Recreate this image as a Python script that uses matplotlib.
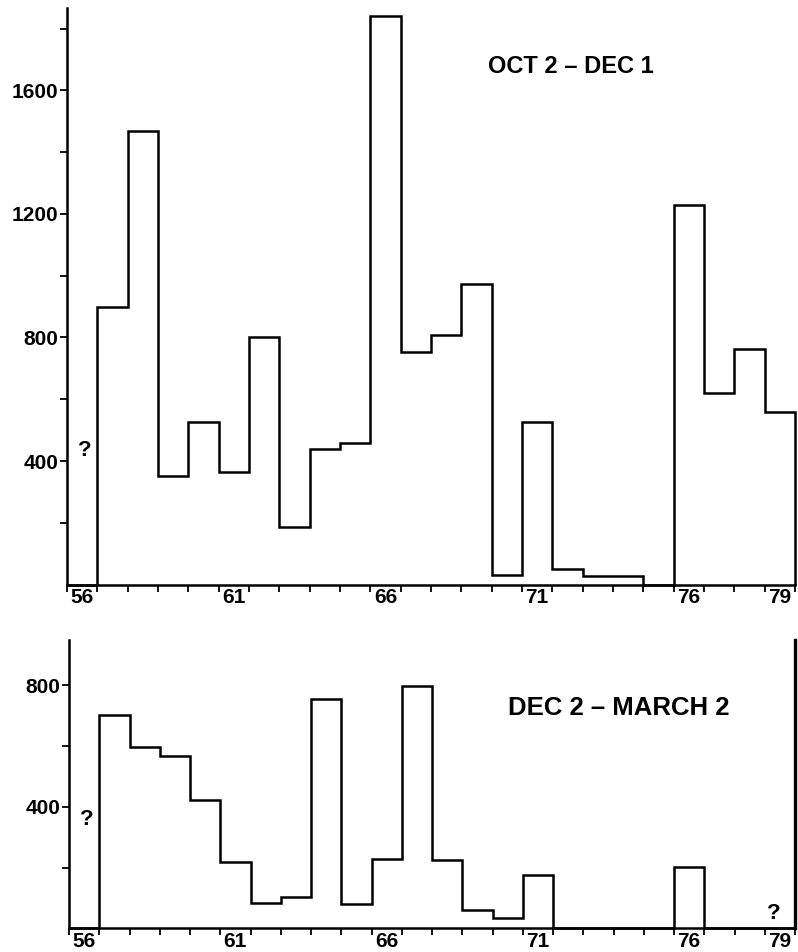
import matplotlib
matplotlib.use("Agg")
import matplotlib.pyplot as plt

plt.rcParams['font.family'] = ['Liberation Sans', 'DejaVu Sans']
plt.rcParams['font.weight'] = 'bold'

# bins are one year wide, left edge = year
years = list(range(1956, 1980))
edges = list(range(1956, 1981))

# Oct 2 - Dec 1 (1956 unknown)
autumn = [0, 900, 1470, 350, 525, 365, 800, 185, 440, 458,
          1840, 752, 808, 972, 30, 525, 51, 27, 27, 0,
          1230, 620, 762, 560]

# Dec 2 - March 2 (1956 and 1979 unknown)
winter = [0, 700, 597, 567, 422, 219, 85, 102, 755, 79,
          228, 797, 225, 60, 33, 175, 0, 0, 0, 0,
          201, 0, 0, 0]

year_labels = ['56', '61', '66', '71', '76', '79']
label_years = [1956, 1961, 1966, 1971, 1976, 1979]

fig = plt.figure(figsize=(7.98, 9.52), dpi=100)
ax1 = fig.add_axes([0.0840, 0.3860, 0.9123, 0.6056])
ax2 = fig.add_axes([0.0865, 0.0247, 0.9098, 0.3030])


def style(ax, vals, ymax, major, minor, right_spine):
    ax.stairs(vals, edges, baseline=0, color='black', lw=1.8, clip_on=False)
    ax.set_xlim(1956, 1980)
    ax.set_ylim(0, ymax)
    for s in ['top', 'right']:
        ax.spines[s].set_visible(False)
    if right_spine:
        ax.spines['right'].set_visible(True)
        ax.spines['right'].set_linewidth(2.4)
    ax.spines['left'].set_linewidth(1.8)
    ax.spines['bottom'].set_linewidth(1.8)
    ax.set_xticks(edges)
    ax.set_xticklabels([])
    ax.set_xticks([y + 0.5 for y in label_years], year_labels, minor=True)
    ax.tick_params(axis='x', which='major', direction='out', length=5, width=1.3)
    ax.tick_params(axis='x', which='minor', length=0, pad=2.5, labelsize=15)
    ax.set_yticks(major)
    ax.set_yticks(minor, minor=True)
    ax.tick_params(axis='y', which='both', direction='out', length=5, width=1.3,
                   labelsize=15, pad=1)


style(ax1, autumn, 1867, [400, 800, 1200, 1600], [200, 600, 1000, 1400, 1800], False)
style(ax2, winter, 948, [400, 800], [200, 600], True)

ax1.text(1972.6, 1679, 'OCT 2 \u2013 DEC 1', ha='center', va='center',
         fontsize=17, fontweight='bold')
ax2.text(1974.17, 725, 'DEC 2 \u2013 MARCH 2', ha='center', va='center',
         fontsize=18.5, fontweight='bold')

ax1.text(1956.6, 435, '?', ha='center', va='center', fontsize=16, fontweight='bold')
ax2.text(1956.6, 357, '?', ha='center', va='center', fontsize=16, fontweight='bold')
ax2.text(1979.3, 48, '?', ha='center', va='center', fontsize=16, fontweight='bold')

fig.savefig('out.png', dpi=100)
